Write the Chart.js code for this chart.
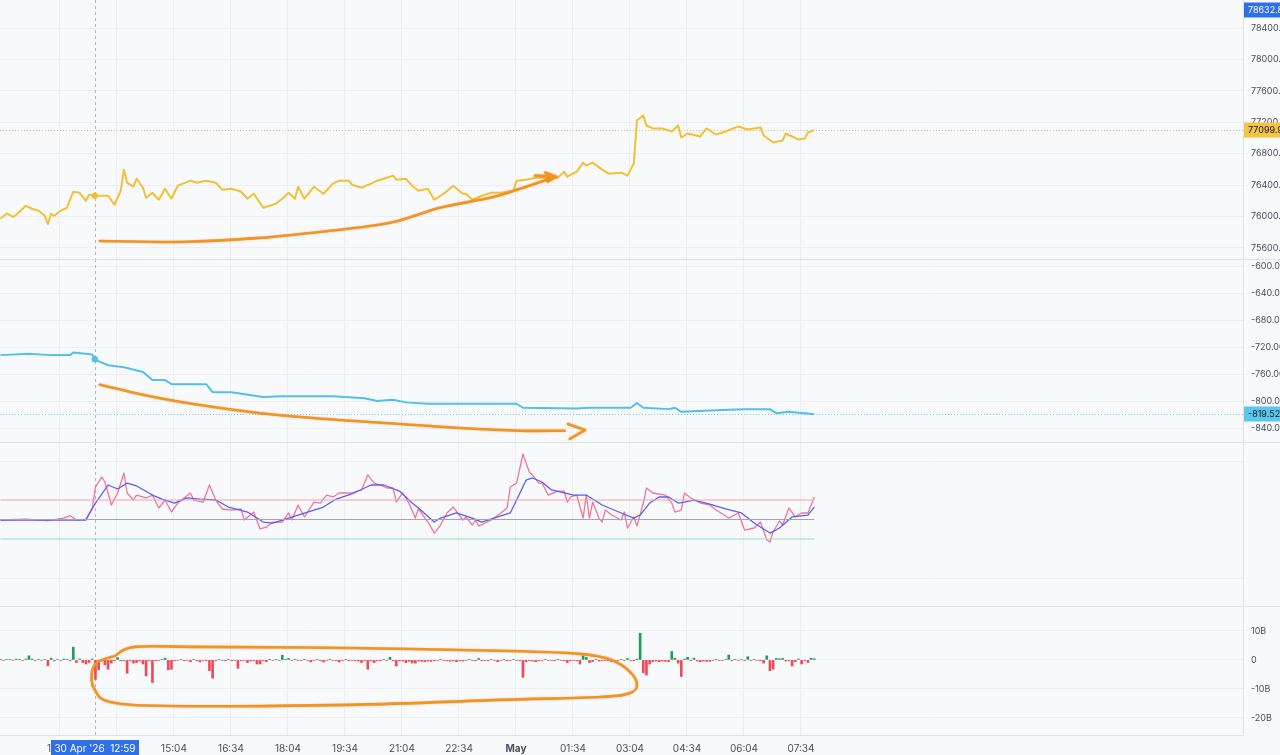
<!DOCTYPE html>
<html>
<head>
<meta charset="utf-8">
<script src="https://cdn.jsdelivr.net/npm/chart.js@4.4.1/dist/chart.umd.min.js"></script>
<style>
  html, body { margin: 0; padding: 0; background: #f8f9fb; }
  #wrap { position: relative; width: 1280px; height: 755px; overflow: hidden; background: #f8f9fb; }
  canvas { position: absolute; left: 0; }
</style>
</head>
<body>
<div id="wrap">
  <canvas id="priceChart" width="1280" height="259" style="top:0"></canvas>
  <canvas id="flowChart" width="1280" height="183" style="top:259px"></canvas>
  <canvas id="oscChart" width="1280" height="164" style="top:442px"></canvas>
  <canvas id="volChart" width="1280" height="149" style="top:606px"></canvas>
</div>
<script>
// all times are minutes counted from 30 Apr 00:00
const timeTicks = [724, 814, 904, 994, 1084, 1174, 1264, 1354, 1444, 1534, 1624, 1714, 1804, 1894];
const timeTickLabels = ['12:04', '13:34', '15:04', '16:34', '18:04', '19:34', '21:04', '22:34', 'May', '01:34', '03:04', '04:34', '06:04', '07:34'];
const crossTime = 779;
const crossLabel = "30 Apr '26  12:59";

const priceTicks = [78400, 78000, 77600, 77200, 76800, 76400, 76000, 75600];
const priceTickLabels = ['78400.00', '78000.00', '77600.00', '77200.00', '76800.00', '76400.00', '76000.00', '75600.00'];
const priceLast = 77099.9;
const priceHigh = 78632.8;
const pricePoints = [
  [630, 75970], [640, 76038], [650, 75995], [655, 76021], [670, 76136], [680, 76098], [690, 76072], [700, 76008],
  [705, 75906], [710, 76034], [715, 76008], [725, 76072], [735, 76111], [745, 76315], [755, 76302], [765, 76200],
  [770, 76277], [780, 76264], [800, 76264], [810, 76149], [820, 76328], [825, 76596], [830, 76430], [840, 76379],
  [845, 76481], [855, 76366], [860, 76238], [870, 76302], [880, 76213], [890, 76353], [900, 76226], [910, 76392],
  [930, 76456], [940, 76430], [955, 76456], [970, 76430], [980, 76341], [995, 76353], [1010, 76315], [1020, 76226],
  [1030, 76290], [1045, 76111], [1055, 76136], [1065, 76162], [1075, 76226], [1085, 76302], [1095, 76226], [1100, 76379],
  [1110, 76226], [1125, 76379], [1140, 76290], [1155, 76418], [1165, 76456], [1180, 76456], [1185, 76405], [1200, 76366],
  [1215, 76418], [1225, 76456], [1240, 76494], [1250, 76520], [1255, 76469], [1270, 76481], [1280, 76392], [1290, 76328],
  [1305, 76353], [1315, 76213], [1330, 76290], [1345, 76392], [1360, 76290], [1365, 76290], [1375, 76213], [1390, 76264],
  [1405, 76302], [1420, 76302], [1430, 76315], [1440, 76328], [1445, 76456], [1460, 76469], [1475, 76494], [1495, 76494],
  [1510, 76494], [1520, 76571], [1525, 76507], [1540, 76571], [1550, 76686], [1555, 76648], [1565, 76686], [1580, 76597],
  [1590, 76545], [1610, 76558], [1620, 76520], [1630, 76673], [1635, 77223], [1645, 77287], [1650, 77159], [1660, 77121],
  [1675, 77121], [1690, 77083], [1700, 77159], [1705, 77006], [1715, 77057], [1735, 77019], [1745, 77121], [1760, 77044],
  [1775, 77083], [1795, 77147], [1810, 77108], [1830, 77134], [1835, 77032], [1850, 76942], [1865, 76968], [1870, 77057],
  [1880, 77019], [1890, 76980], [1900, 76993], [1905, 77070], [1915, 77099.9]
];

const flowTicks = [-600, -640, -680, -720, -760, -800, -840];
const flowTickLabels = ['-600.00', '-640.00', '-680.00', '-720.00', '-760.00', '-800.00', '-840.00'];
const flowLast = -819.52;
const flowPoints = [
  [630, -732], [675, -730], [710, -732], [740, -732], [745, -728], [775, -731], [780, -739], [800, -747],
  [825, -750], [855, -757], [870, -769], [890, -769], [900, -775], [955, -775], [965, -787], [995, -787],
  [1045, -794], [1075, -793], [1155, -793], [1205, -796], [1225, -800], [1250, -798], [1270, -802], [1305, -804],
  [1445, -804], [1455, -810], [1540, -811], [1560, -810], [1625, -810], [1635, -803], [1645, -810], [1685, -812],
  [1695, -810], [1705, -816], [1780, -813], [1805, -812], [1845, -812], [1855, -818], [1875, -816], [1915, -819.52]
];

const oscLevels = [20, 0, -20];
const oscPoints = [
  [630, -0.5], [670, 0.5], [705, -1.2], [730, 1.5], [740, 3.9], [750, -0.5], [765, 0.5], [775, 11.8],
  [780, 33.3], [790, 43.6], [795, 38.5], [805, 14.9], [815, 27.2], [825, 47.7], [830, 27.2], [840, 20],
  [845, 25.1], [860, 22.1], [870, 25.1], [880, 11.8], [890, 20], [900, 7.7], [910, 16.9], [920, 22.1],
  [930, 27.2], [935, 20], [950, 17.9], [960, 35.4], [970, 20], [980, 10.8], [995, 9.7], [1010, 10.8],
  [1015, -0.5], [1030, 7.7], [1040, -9.7], [1050, -7.7], [1060, -2.6], [1075, -2.6], [1085, 6.7], [1090, -0.5],
  [1100, 14.9], [1110, 2.6], [1125, 17.9], [1135, 16.9], [1145, 25.1], [1155, 23.1], [1165, 27.2], [1180, 27.2],
  [1185, 27.2], [1200, 30.3], [1210, 45.7], [1220, 37.4], [1230, 35.4], [1240, 32.3], [1250, 32.3], [1255, 17.9],
  [1265, 27.2], [1275, 16.9], [1285, 1.5], [1290, 10.8], [1305, -2.6], [1315, -13.9], [1325, -5.6], [1335, 6.7],
  [1345, 12.8], [1360, -0.5], [1365, 2.6], [1375, -5.6], [1380, -0.5], [1385, -6.7], [1405, -0.5], [1420, 6.7],
  [1430, 11.8], [1435, 33.3], [1445, 37.4], [1455, 67.2], [1465, 48.7], [1470, 45.7], [1480, 37.4], [1485, 37.4],
  [1495, 25.1], [1510, 29.2], [1520, 29.2], [1525, 17.9], [1530, 23.1], [1540, 25.1], [1550, 1.5], [1555, 25.1],
  [1560, 1.5], [1565, 17.9], [1575, 1.5], [1580, -2.6], [1585, 9.7], [1595, 4.6], [1610, -0.5], [1615, 7.7],
  [1620, -8.7], [1630, 2.6], [1635, -6.7], [1645, 16.9], [1650, 32.3], [1660, 27.2], [1680, 25.1], [1690, 16.9],
  [1695, 7.7], [1705, 9.7], [1710, 27.2], [1720, 22.1], [1735, 16.9], [1750, 14.9], [1760, 9.7], [1780, 1.5],
  [1795, 6.7], [1805, -10.8], [1820, -8.7], [1830, -2.6], [1840, -21], [1845, -23.1], [1850, -12.8], [1860, -1.5],
  [1865, -5.6], [1875, 11.8], [1885, 2.6], [1895, 6.7], [1905, 6.7], [1915, 23.1]
];
const oscMaPoints = [
  [630, -0.5], [765, -0.5], [780, 16.9], [800, 35.4], [815, 31.3], [830, 37.4], [845, 34.4], [870, 25.1],
  [885, 21], [905, 16.9], [925, 22.1], [945, 21], [970, 20], [990, 12.8], [1020, 7.7], [1045, -2.6],
  [1060, -3.6], [1085, 1.5], [1115, 7.7], [1140, 12.8], [1160, 21], [1185, 26.2], [1215, 35.4], [1235, 35.4],
  [1260, 29.2], [1280, 16.9], [1290, 11.8], [1315, -2.6], [1325, 1.5], [1350, 6.7], [1375, 1.5], [1390, -2.6],
  [1415, 2.6], [1435, 6.7], [1445, 20], [1460, 40.5], [1470, 42.6], [1485, 38.5], [1500, 30.3], [1535, 25.1],
  [1555, 25.1], [1580, 14.9], [1610, 6.7], [1630, 1.5], [1640, 4.6], [1655, 16.9], [1670, 23.1], [1685, 23.1],
  [1700, 16.9], [1710, 17.9], [1725, 20], [1750, 15.9], [1775, 10.8], [1800, 6.7], [1820, -3.6], [1845, -13.9],
  [1860, -8.7], [1880, 2.6], [1905, 4.6], [1915, 12.8]
];

// volume delta in billions, one bar every 5 minutes from 10:30
const volStart = 630;
const volStep = 5;
const volTicks = [10, 0, -10, -20];
const volTickLabels = ['10B', '0', '-10B', '-20B'];
const volValues = [
  0.2, -0.2, 0.2, 0.2, -0.2, 0.3, 0.2, -0.2, 0.3, 1.4, 0.3, -0.2,
  0.2, -0.2, 0.2, -2.0, 0.6, -0.3, 0.2, -0.2, 0.3, 0.2, -0.3, 4.4,
  -0.9, 0.3, -0.9, -1.4, -0.9, 0.3, -6.7, -3.4, -0.3, -1.7, -3.2, -1.1,
  -0.3, 0.8, -0.3, -0.3, -4.6, -0.3, -1.1, -0.9, -0.4, -1.4, -5.5, -0.3,
  -7.8, -0.3, -0.2, 0.2, 0.6, -3.4, -3.2, -0.3, -0.2, 0.2, -0.3, -0.2,
  -0.6, 0.2, -0.3, -0.7, -0.2, -0.3, -3.7, -6.3, -0.3, 0.2, -0.2, -0.3,
  0.2, -0.3, -0.2, -2.9, -0.3, -0.2, -0.9, -0.4, -0.3, -1.4, -1.4, -0.3,
  -0.6, 0.2, -0.2, 0.2, -0.2, 1.6, 0.2, 0.5, -0.2, 0.2, -0.2, -0.2,
  0.2, -0.2, -0.7, -0.2, 0.2, -0.3, -0.7, -0.2, 0.2, -0.2, -0.3, -0.7,
  -0.2, 0.2, -0.3, -0.2, -0.3, -0.4, -0.9, -0.3, -3.2, -0.4, -0.9, -0.3,
  -0.3, 0.2, -0.2, 0.9, -0.3, -2.1, -0.3, -0.4, -0.9, -0.5, -1.1, -1.1,
  -0.4, -0.5, -0.6, -0.4, -0.5, -0.3, -0.2, 0.2, -0.2, -0.3, -0.4, -0.3,
  -0.6, -0.3, -0.4, -0.2, 0.2, -0.2, -0.3, 0.5, -0.3, -0.2, -0.3, 0.2,
  -0.2, -0.6, -0.2, 0.2, -0.3, -0.2, 0.2, -0.2, -0.3, -6.0, -0.6, -0.3,
  -0.4, -0.6, -0.3, -0.2, 0.2, -0.2, -0.2, -0.3, 0.2, -0.2, -0.3, -0.9,
  -0.3, -0.2, -0.3, -1.4, 1.4, 0.9, -0.9, -0.6, 0.2, -0.4, -0.3, -0.2,
  -0.3, -0.6, -0.3, -0.2, 0.2, -0.2, 0.5, -0.2, -0.3, 0.3, 9.2, -4.4,
  -5.2, -1.4, -0.6, -0.4, -0.6, -0.4, -0.5, -0.6, 2.9, 0.6, -1.1, -5.7,
  0.3, 0.9, -0.3, 0.6, -0.4, -0.6, -0.4, -0.5, -0.5, -0.2, 0.2, -0.2,
  -0.2, 0.2, 1.7, -0.3, 0.2, -0.2, 0.2, -0.2, 1.1, -0.2, 0.2, -0.2,
  -0.3, -1.1, 1.4, -3.7, -3.2, 0.5, 0.4, 0.5, -0.4, -0.3, -2.1, -0.6,
  0.3, -1.4, -0.3, -0.9, 0.6, 0.4
];

// hand-drawn orange marks, in (minute, value) of their pane
const priceMark = [[787, 75688], [913, 75675], [1040, 75727], [1150, 75817], [1245, 75919], [1324, 76111], [1403, 76238], [1450, 76353], [1497, 76481]];
const priceMarkHead = [[1474, 76520], [1508, 76507], [1490, 76559], [1508, 76507], [1494, 76443]];
const flowMark = [[787, -776], [866, -793], [945, -806], [1040, -818], [1150, -827], [1261, -834], [1355, -840], [1450, -844], [1521, -844]];
const flowMarkHead = [[1526, -834], [1553, -843], [1529, -856]];
const volMark = [[811, 1.4], [842, 4.5], [945, 4.5], [1182, 4.1], [1435, 3.1], [1545, 2.1], [1595, 0], [1624, -4.1], [1635, -8.6], [1624, -11.4], [1577, -12.8], [1419, -13.8], [1182, -15.5], [898, -15.9], [803, -14.5], [779, -10.3], [774, -5.2], [782, -1.0], [811, 1.4]];

const X_MIN = 629.3;
const X_MAX = 2591.9;
const AXIS_W = 37;
const GRID = '#eceef3';
const LINE = '#e0e3eb';
const TEXT = '#4a4e59';
const ORANGE = '#f5931e';
const FONT = 'Inter, Roboto, sans-serif';

Chart.defaults.font.family = FONT;
Chart.defaults.font.size = 9;
Chart.defaults.color = TEXT;

const toXY = pts => pts.map(p => ({ x: p[0], y: p[1] }));

function xScale(showLabels) {
  return {
    type: 'linear', min: X_MIN, max: X_MAX, offset: false,
    afterBuildTicks: axis => { axis.ticks = timeTicks.map(v => ({ value: v })); },
    afterFit: axis => {
      axis.height = showLabels ? 20 : 0;
      axis.paddingLeft = 0; axis.paddingRight = 0;
    },
    grid: { color: GRID, drawTicks: false, offset: false },
    border: { display: showLabels, color: LINE },
    ticks: {
      display: showLabels, autoSkip: false, maxRotation: 0, padding: 8,
      font: c => ({ size: 10, weight: c.tick && c.tick.value === 1444 ? 'bold' : 'normal' }),
      callback: v => timeTickLabels[timeTicks.indexOf(v)]
    }
  };
}

function yScale(min, max, ticks, labels) {
  return {
    position: 'right', min: min, max: max,
    afterBuildTicks: axis => { axis.ticks = ticks.map(v => ({ value: v })); },
    afterFit: axis => { axis.width = AXIS_W; axis.paddingTop = 0; axis.paddingBottom = 0; },
    grid: { color: GRID, drawTicks: false },
    border: { display: true, color: LINE },
    ticks: {
      display: labels !== null, padding: 8, autoSkip: false, font: { size: 9 },
      callback: v => labels ? labels[ticks.indexOf(v)] : ''
    }
  };
}

function smoothStroke(ctx, pts) {
  ctx.beginPath();
  ctx.moveTo(pts[0][0], pts[0][1]);
  for (let i = 0; i < pts.length - 1; i++) {
    const p0 = pts[i - 1] || pts[i], p1 = pts[i], p2 = pts[i + 1], p3 = pts[i + 2] || p2;
    ctx.bezierCurveTo(
      p1[0] + (p2[0] - p0[0]) / 6, p1[1] + (p2[1] - p0[1]) / 6,
      p2[0] - (p3[0] - p1[0]) / 6, p2[1] - (p3[1] - p1[1]) / 6,
      p2[0], p2[1]);
  }
  ctx.stroke();
}

function toPixels(chart, pts) {
  const xs = chart.scales.x, ys = chart.scales.y;
  return pts.map(p => [xs.getPixelForValue(p[0]), ys.getPixelForValue(p[1])]);
}

function drawMark(chart, pts, head) {
  const ctx = chart.ctx;
  ctx.save();
  ctx.strokeStyle = ORANGE;
  ctx.lineWidth = 2.6;
  ctx.lineCap = 'round';
  ctx.lineJoin = 'round';
  ctx.shadowColor = 'rgba(160, 80, 0, 0.35)';
  ctx.shadowBlur = 1.5;
  smoothStroke(ctx, toPixels(chart, pts));
  if (head) {
    const hp = toPixels(chart, head);
    ctx.beginPath();
    ctx.moveTo(hp[0][0], hp[0][1]);
    for (let i = 1; i < hp.length; i++) ctx.lineTo(hp[i][0], hp[i][1]);
    ctx.stroke();
  }
  ctx.restore();
}

function axisBox(chart, value, text, bg, fg) {
  const ctx = chart.ctx;
  const y = chart.scales.y.getPixelForValue(value);
  const x0 = chart.chartArea.right + 1;
  ctx.save();
  ctx.fillStyle = bg;
  ctx.fillRect(x0, Math.round(y) - 7.5, chart.width - x0, 15);
  ctx.fillStyle = fg;
  ctx.font = '9px ' + FONT;
  ctx.textBaseline = 'middle';
  ctx.textAlign = 'left';
  ctx.fillText(text, x0 + 4, Math.round(y) + 0.5);
  ctx.restore();
}

function hLine(chart, value, color, dash) {
  const ctx = chart.ctx, a = chart.chartArea;
  const y = Math.round(chart.scales.y.getPixelForValue(value)) + 0.5;
  ctx.save();
  ctx.strokeStyle = color;
  ctx.lineWidth = 1;
  ctx.setLineDash(dash);
  ctx.beginPath();
  ctx.moveTo(a.left, y);
  ctx.lineTo(a.right, y);
  ctx.stroke();
  ctx.restore();
}

const paneDecor = {
  id: 'paneDecor',
  beforeDatasetsDraw(chart) {
    const ctx = chart.ctx, a = chart.chartArea;
    const x = Math.round(chart.scales.x.getPixelForValue(crossTime)) + 0.5;
    ctx.save();
    ctx.strokeStyle = '#b4b7c1';
    ctx.lineWidth = 1;
    ctx.setLineDash([3, 3]);
    ctx.beginPath();
    ctx.moveTo(x, 0);
    ctx.lineTo(x, a.bottom);
    ctx.stroke();
    ctx.restore();
    if (chart.canvas.id !== 'priceChart') {
      ctx.save();
      ctx.strokeStyle = LINE;
      ctx.beginPath();
      ctx.moveTo(0, 0.5);
      ctx.lineTo(chart.width, 0.5);
      ctx.stroke();
      ctx.restore();
    }
    const o = chart.options.plugins.paneDecor;
    if (o.dotted) hLine(chart, o.dotted.value, o.dotted.color, [1, 2]);
  },
  afterDraw(chart) {
    const o = chart.options.plugins.paneDecor;
    const ctx = chart.ctx;
    if (o.crossDot) {
      const xs = chart.scales.x, ys = chart.scales.y;
      ctx.save();
      ctx.fillStyle = o.crossDot.color;
      ctx.beginPath();
      ctx.arc(xs.getPixelForValue(crossTime), ys.getPixelForValue(o.crossDot.value), 3.2, 0, Math.PI * 2);
      ctx.fill();
      ctx.restore();
    }
    (o.marks || []).forEach(m => drawMark(chart, m.pts, m.head));
    (o.boxes || []).forEach(b => axisBox(chart, b.value, b.text, b.bg, b.fg));
    if (o.timeBox) {
      const x = Math.round(chart.scales.x.getPixelForValue(crossTime));
      const top = chart.chartArea.bottom + 5;
      ctx.save();
      ctx.font = '10px ' + FONT;
      const w = Math.max(80, Math.ceil(ctx.measureText(crossLabel).width) + 6);
      ctx.fillStyle = '#2f6fe8';
      ctx.fillRect(x - w / 2, top, w, chart.height - top);
      ctx.fillStyle = '#ffffff';
      ctx.textAlign = 'center';
      ctx.textBaseline = 'middle';
      ctx.fillText(crossLabel, x, top + 8.5);
      ctx.restore();
    }
  }
};

const common = {
  responsive: false,
  animation: false,
  events: [],
  layout: { padding: 0 },
  elements: { point: { radius: 0 }, line: { tension: 0, borderJoinStyle: 'round' } }
};

new Chart(document.getElementById('priceChart'), {
  type: 'line',
  data: {
    datasets: [{
      data: toXY(pricePoints), borderColor: '#f2c037', borderWidth: 2
    }]
  },
  options: Object.assign({}, common, {
    scales: { x: xScale(false), y: yScale(75458, 78758, priceTicks, priceTickLabels) },
    plugins: {
      legend: { display: false }, tooltip: { enabled: false },
      paneDecor: {
        dotted: { value: priceLast, color: '#f6b870' },
        crossDot: { value: 76264, color: '#f2c037' },
        marks: [{ pts: priceMark, head: priceMarkHead }],
        boxes: [
          { value: priceHigh, text: priceHigh.toFixed(2), bg: '#2f6fe8', fg: '#ffffff' },
          { value: priceLast, text: priceLast.toFixed(2), bg: '#f4c443', fg: '#131722' }
        ]
      }
    }
  }),
  plugins: [paneDecor]
});

new Chart(document.getElementById('flowChart'), {
  type: 'line',
  data: {
    datasets: [{
      data: toXY(flowPoints), borderColor: '#52c0e8', borderWidth: 2
    }]
  },
  options: Object.assign({}, common, {
    scales: { x: xScale(false), y: yScale(-860.7, -589.6, flowTicks, flowTickLabels) },
    plugins: {
      legend: { display: false }, tooltip: { enabled: false },
      paneDecor: {
        dotted: { value: flowLast, color: '#73cdee' },
        crossDot: { value: -738, color: '#52c0e8' },
        marks: [{ pts: flowMark, head: flowMarkHead }],
        boxes: [{ value: flowLast, text: flowLast.toFixed(2), bg: '#5cc6ec', fg: '#131722' }]
      }
    }
  }),
  plugins: [paneDecor]
});

const levelColors = ['#f3a3a3', '#a2a4b6', '#9fd8c3'];
const oscFirst = oscPoints[0][0];
const oscLastT = oscPoints[oscPoints.length - 1][0];
new Chart(document.getElementById('oscChart'), {
  type: 'line',
  data: {
    datasets: oscLevels.map((lv, i) => ({
      data: [{ x: oscFirst, y: lv }, { x: oscLastT, y: lv }],
      borderColor: levelColors[i], borderWidth: 1
    })).concat([
      { data: toXY(oscMaPoints), borderColor: '#5b5ef0', borderWidth: 1.3 },
      { data: toXY(oscPoints), borderColor: '#f0759b', borderWidth: 1.3 }
    ])
  },
  options: Object.assign({}, common, {
    scales: { x: xScale(false), y: yScale(-88.7, 79.5, [60, -60], null) },
    plugins: {
      legend: { display: false }, tooltip: { enabled: false },
      paneDecor: {}
    }
  }),
  plugins: [paneDecor]
});

new Chart(document.getElementById('volChart'), {
  type: 'bar',
  data: {
    datasets: [{
      data: volValues.map((v, i) => ({ x: volStart + i * volStep, y: v })),
      backgroundColor: volValues.map(v => v >= 0 ? '#1f9d5a' : '#ec4b57'),
      barThickness: 2
    }]
  },
  options: Object.assign({}, common, {
    scales: { x: xScale(true), y: yScale(-25.9, 18.6, volTicks, volTickLabels) },
    plugins: {
      legend: { display: false }, tooltip: { enabled: false },
      paneDecor: {
        marks: [{ pts: volMark }],
        timeBox: true
      }
    }
  }),
  plugins: [paneDecor]
});
</script>
</body>
</html>
